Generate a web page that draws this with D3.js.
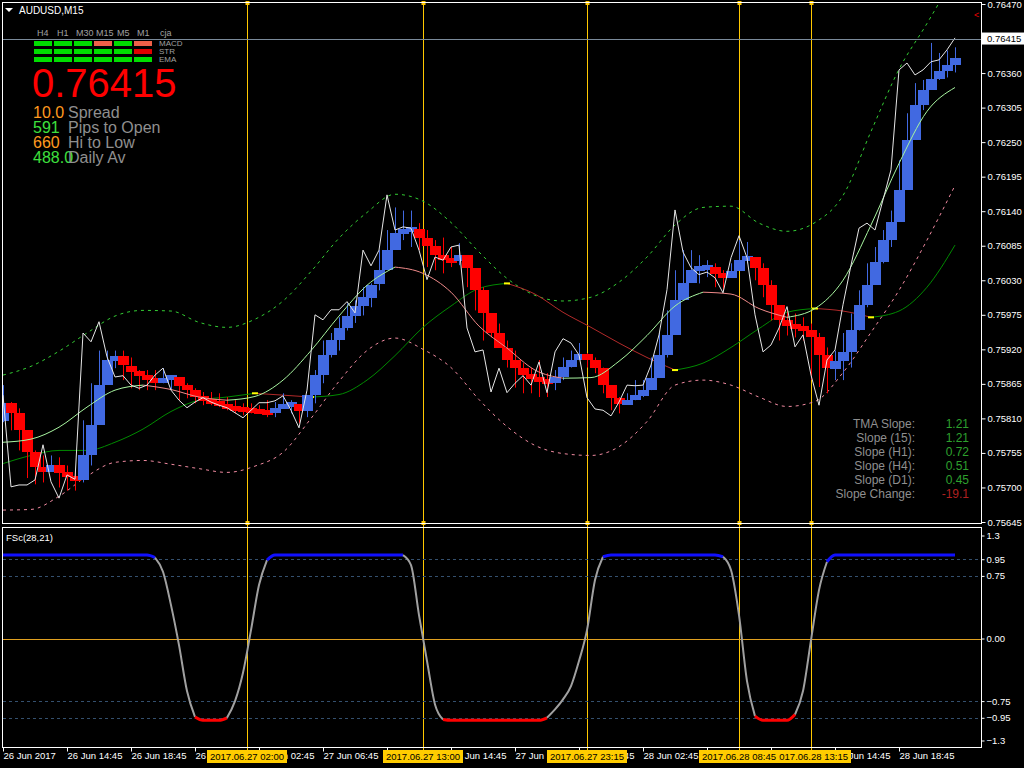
<!DOCTYPE html>
<html><head><meta charset="utf-8">
<script src="https://cdn.jsdelivr.net/npm/d3@7/dist/d3.min.js"></script>
<style>
body{margin:0;background:#000;}
svg{display:block;}
text{font-family:"Liberation Sans",Arial,sans-serif;}
</style></head><body>
<svg id="c" width="1024" height="768"></svg>
<script>
// ---------------- DATA ----------------
const symbolTitle = "AUDUSD,M15";
const startTime = new Date(2017, 5, 26, 10, 45); // first M15 bar
const barMinutes = 15;
const blockStep = 2;   // bars per heikin-ashi block sample
const smoothStep = 7;  // bars per smooth-line sample

const priceTicks = [0.76470,0.76415,0.76360,0.76305,0.76250,0.76195,0.76140,0.76085,0.76030,0.75975,0.75920,0.75865,0.75810,0.75755,0.75700,0.75645];
const currentPrice = 0.76415;

const timeTickBars = [0,16,32,48,64,80,96,112,128,144,160,176,192,208,224];
const timeTickLabels = ["26 Jun 2017","26 Jun 14:45","26 Jun 18:45","26 Jun 22:45","27 Jun 02:45","27 Jun 06:45","27 Jun 10:45","27 Jun 14:45","27 Jun 18:45","27 Jun 22:45","28 Jun 02:45","28 Jun 06:45","28 Jun 10:45","28 Jun 14:45","28 Jun 18:45"];

const markerBars = [61,105,146,184,202];
const markerLabels = ["2017.06.27 02:00","2017.06.27 13:00","2017.06.27 23:15","2017.06.28 08:45","2017.06.28 13:15"];

const haOpen0 = 0.75807;
const haClose = [0.75835,0.75819,0.75792,0.75757,0.75733,0.75725,0.75736,0.75723,0.75717,0.75712,
0.75752,0.75800,0.75863,0.75903,0.75909,0.75894,0.75884,0.75878,0.75873,0.75868,
0.75874,0.75876,0.75862,0.75855,0.75844,0.75838,0.75835,0.75831,0.75828,0.75825,
0.75823,0.75822,0.75820,0.75819,0.75827,0.75831,0.75833,0.75822,0.75847,0.75879,
0.75911,0.75935,0.75954,0.75973,0.75989,0.76003,0.76023,0.76046,0.76078,0.76105,
0.76110,0.76112,0.76097,0.76085,0.76070,0.76062,0.76061,0.76070,0.76050,0.76015,
0.75978,0.75946,0.75922,0.75903,0.75890,0.75879,0.75873,0.75870,0.75866,0.75876,
0.75892,0.75903,0.75913,0.75903,0.75890,0.75863,0.75843,0.75833,0.75839,0.75846,
0.75855,0.75874,0.75911,0.75943,0.75999,0.76026,0.76046,0.76050,0.76051,0.76040,
0.76034,0.76045,0.76062,0.76067,0.76050,0.76023,0.75991,0.75967,0.75957,0.75956,
0.75951,0.75940,0.75911,0.75890,0.75902,0.75916,0.75951,0.75991,0.76023,0.76059,
0.76094,0.76123,0.76174,0.76254,0.76309,0.76333,0.76351,0.76363,0.76373,0.76384];

const wickHigh = [0.75863,0.75836,0.75826,0.75783,0.75759,0.75751,0.75751,0.75748,0.75735,0.75727,
0.75807,0.75866,0.75918,0.75918,0.75918,0.75918,0.75907,0.75887,0.75887,0.75887,
0.75890,0.75879,0.75871,0.75866,0.75858,0.75852,0.75852,0.75850,0.75844,0.75839,
0.75834,0.75834,0.75831,0.75839,0.75836,0.75850,0.75839,0.75831,0.75839,0.75887,
0.75934,0.75946,0.75971,0.75993,0.75998,0.76019,0.76025,0.76078,0.76110,0.76146,
0.76141,0.76141,0.76121,0.76110,0.76094,0.76098,0.76083,0.76089,0.76057,0.76035,
0.76019,0.75977,0.75961,0.75934,0.75918,0.75898,0.75891,0.75903,0.75882,0.75887,
0.75907,0.75918,0.75930,0.75914,0.75907,0.75891,0.75860,0.75844,0.75850,0.75871,
0.75871,0.75907,0.75946,0.75982,0.76046,0.76078,0.76078,0.76070,0.76062,0.76057,
0.76046,0.76057,0.76094,0.76091,0.76065,0.76057,0.76030,0.75987,0.75982,0.75977,
0.75971,0.75961,0.75946,0.75923,0.75918,0.75946,0.75977,0.76014,0.76057,0.76083,
0.76110,0.76141,0.76221,0.76296,0.76344,0.76349,0.76408,0.76392,0.76396,0.76401];

const wickLow = [0.75804,0.75791,0.75759,0.75715,0.75705,0.75708,0.75727,0.75700,0.75695,0.75695,
0.75708,0.75735,0.75823,0.75887,0.75890,0.75871,0.75858,0.75855,0.75855,0.75855,
0.75866,0.75855,0.75839,0.75842,0.75834,0.75831,0.75831,0.75828,0.75823,0.75818,
0.75815,0.75818,0.75818,0.75812,0.75812,0.75826,0.75818,0.75802,0.75812,0.75834,
0.75866,0.75907,0.75918,0.75950,0.75962,0.75974,0.75987,0.76014,0.76057,0.76089,
0.76094,0.76083,0.76078,0.76051,0.76046,0.76041,0.76051,0.76054,0.76019,0.75982,
0.75934,0.75939,0.75923,0.75891,0.75859,0.75850,0.75850,0.75844,0.75844,0.75855,
0.75871,0.75891,0.75903,0.75891,0.75882,0.75850,0.75823,0.75818,0.75834,0.75839,
0.75844,0.75855,0.75882,0.75907,0.75971,0.76014,0.76030,0.76025,0.76035,0.76019,
0.76014,0.76035,0.76051,0.76057,0.76030,0.76003,0.75966,0.75934,0.75942,0.75939,
0.75934,0.75871,0.75860,0.75850,0.75871,0.75871,0.75891,0.75950,0.75987,0.76025,
0.76057,0.76083,0.76157,0.76221,0.76296,0.76301,0.76337,0.76349,0.76353,0.76361];

const closeLine = [0.75847,0.75701,0.75704,0.75704,0.75712,0.75768,0.75709,0.75683,0.75720,0.75713,
0.75946,0.75932,0.75964,0.75908,0.75876,0.75878,0.75863,0.75858,0.75863,0.75879,
0.75890,0.75855,0.75839,0.75827,0.75836,0.75843,0.75836,0.75831,0.75827,0.75819,
0.75811,0.75823,0.75835,0.75835,0.75838,0.75846,0.75823,0.75795,0.75855,0.75975,
0.75967,0.75983,0.75983,0.75996,0.75978,0.76078,0.76053,0.76078,0.76166,0.76110,
0.76115,0.76113,0.76078,0.76031,0.76067,0.76062,0.76083,0.76086,0.75954,0.75916,
0.75919,0.75852,0.75890,0.75851,0.75866,0.75878,0.75863,0.75900,0.75851,0.75916,
0.75937,0.75930,0.75911,0.75843,0.75825,0.75823,0.75814,0.75836,0.75863,0.75862,
0.75863,0.75895,0.75943,0.76015,0.76142,0.76075,0.76050,0.76039,0.76043,0.76034,
0.76010,0.76066,0.76101,0.76066,0.75975,0.75916,0.75927,0.75954,0.75988,0.75924,
0.75943,0.75879,0.75831,0.75903,0.75919,0.75991,0.76054,0.76113,0.76121,0.76110,
0.76158,0.76206,0.76365,0.76376,0.76357,0.76365,0.76378,0.76381,0.76397,0.76416];

const upperBand = [0.75879,0.75893,0.75917,0.75946,0.75973,0.75982,0.75981,0.75963,0.75955,0.75968,
0.75997,0.76044,0.76097,0.76138,0.76167,0.76156,0.76122,0.76075,0.76033,0.76006,
0.75997,0.76003,0.76027,0.76067,0.76118,0.76146,0.76148,0.76121,0.76108,0.76122,
0.76165,0.76267,0.76366,0.76439,0.76516];
const lowerBand = [0.75664,0.75665,0.75686,0.75718,0.75740,0.75743,0.75737,0.75730,0.75724,0.75734,
0.75756,0.75810,0.75869,0.75918,0.75938,0.75920,0.75891,0.75840,0.75797,0.75767,
0.75754,0.75751,0.75765,0.75805,0.75863,0.75871,0.75863,0.75844,0.75829,0.75837,
0.75883,0.75947,0.76014,0.76094,0.76181];
const tmaLine = [0.75772,0.75777,0.75796,0.75828,0.75855,0.75863,0.75856,0.75844,0.75839,0.75845,
0.75871,0.75918,0.75973,0.76022,0.76051,0.76041,0.76011,0.75957,0.75922,0.75887,
0.75874,0.75875,0.75901,0.75942,0.75989,0.76011,0.76008,0.75985,0.75971,0.75985,
0.76030,0.76118,0.76216,0.76299,0.76337];
const slowMA = [0.75738,0.75751,0.75759,0.75759,0.75772,0.75793,0.75821,0.75839,0.75844,0.75850,
0.75847,0.75844,0.75848,0.75871,0.75910,0.75955,0.75989,0.76017,0.76025,0.76008,
0.75979,0.75955,0.75930,0.75907,0.75887,0.75898,0.75923,0.75953,0.75979,0.75985,
0.75981,0.75971,0.75981,0.76019,0.76086];

const fscName = "FSc(28,21)";
const fscValues = [1.00,1.00,1.00,1.00,1.00,1.00,1.00,1.00,1.00,1.00,
1.00,1.00,1.00,1.00,1.00,1.00,1.00,1.00,1.00,0.97,
0.80,0.40,-0.08,-0.63,-0.94,-0.98,-0.98,-0.98,-0.95,-0.75,
-0.41,0.10,0.64,0.94,1.00,1.00,1.00,1.00,1.00,1.00,
1.00,1.00,1.00,1.00,1.00,1.00,1.00,1.00,1.00,1.00,
1.00,0.88,0.28,-0.27,-0.79,-0.97,-0.98,-0.98,-0.98,-0.98,
-0.98,-0.98,-0.98,-0.98,-0.98,-0.98,-0.98,-0.98,-0.95,-0.85,
-0.73,-0.57,-0.27,0.10,0.70,0.98,1.00,1.00,1.00,1.00,
1.00,1.00,1.00,1.00,1.00,1.00,1.00,1.00,1.00,1.00,
0.98,0.82,0.28,-0.51,-0.93,-0.98,-0.98,-0.98,-0.98,-0.91,
-0.63,-0.02,0.58,0.92,1.00,1.00,1.00,1.00,1.00,1.00,
1.00,1.00,1.00,1.00,1.00,1.00,1.00,1.00,1.00,1.00];
const fscLevels = [0.95,0.75,-0.75,-0.95];
const fscTicks = [1.3,0.95,0.75,0.00,-0.75,-0.95,-1.3];

const tfLabels = ["H4","H1","M30","M15","M5","M1","cja"];
const gridRows = ["MACD","STR","EMA"];
const gridStatus = [[1,1,1,-1,1,-1],[1,1,1,1,1,-2],[1,1,1,1,1,1]];
const bigPrice = "0.76415";
const infoValues = ["10.0","591","660","488.0"];
const infoLabels = ["Spread","Pips to Open","Hi to Low","Daily Av"];
const infoColors = ["#ff9a1f","#3ee03e","#ff9a1f","#3ee03e"];
const slopeLabels = ["TMA Slope:","Slope (15):","Slope (H1):","Slope (H4):","Slope (D1):","Slope Change:"];
const slopeValues = ["1.21","1.21","0.72","0.51","0.45","-19.1"];

// ---------------- DRAW ----------------
const svg = d3.select("#c");
svg.append("rect").attr("width",1024).attr("height",768).attr("fill","#000");
const tb = i => new Date(+startTime + i*barMinutes*60000);
const x = d3.scaleTime().domain([tb(0), tb(244.5)]).range([3,981]);
const y = d3.scaleLinear().domain([0.75645,0.76470]).range([522,4]);
const yo = d3.scaleLinear().domain([-1.3,1.3]).range([747,530]);
const BLUE="#4169e1", RED="#ff0000", MK="#ffc800";

const defs = svg.append("defs");
defs.append("clipPath").attr("id","mainClip").append("rect").attr("x",2.5).attr("y",3).attr("width",979).attr("height",520);
defs.append("clipPath").attr("id","subClip").append("rect").attr("x",2.5).attr("y",528).attr("width",979).attr("height",219);

// vertical markers
markerBars.forEach(b=>{
  const xx = Math.round(x(tb(b)))+0.5;
  svg.append("line").attr("x1",xx).attr("x2",xx).attr("y1",3).attr("y2",752).attr("stroke",MK).attr("stroke-width",1);
  [3,523].forEach(yy=>svg.append("rect").attr("x",xx-2).attr("y",yy-2).attr("width",4).attr("height",4).attr("fill",MK));
});

const main = svg.append("g").attr("clip-path","url(#mainClip)");
const sx = j => x(tb(j*smoothStep));
const bx = k => x(tb(k*blockStep));

function dashed(vals,color,dash){
  main.append("path").attr("d",d3.line().x((d,j)=>sx(j)).y(d=>y(d)).curve(d3.curveMonotoneX)(vals))
    .attr("fill","none").attr("stroke",color).attr("stroke-width",1).attr("stroke-dasharray",dash);
}
dashed(upperBand,"#33cc33","3,4");
dashed(lowerBand,"#f08aa0","3,4");

function colorRuns(vals,fn){
  const out=[];
  for(let i=0;i<vals.length-1;i++){
    const c=fn(vals[i],vals[i+1],i);
    if(out.length && out[out.length-1].c===c) out[out.length-1].idx.push(i+1);
    else out.push({c,idx:[i,i+1]});
  }
  return out;
}
function drawRuns(g,vals,runs,xf,yf,widthFn){
  runs.forEach(r=>{
    g.append("path").attr("d",d3.line().x(i=>xf(i)).y(i=>yf(vals[i])).curve(d3.curveMonotoneX)(r.idx))
      .attr("fill","none").attr("stroke",r.c).attr("stroke-width",widthFn?widthFn(r.c):1);
  });
}
// slow MA
const slowRuns = colorRuns(slowMA,(a,b)=> b>=a ? "#008a00" : "#b22a2a");
drawRuns(main,slowMA,slowRuns,sx,y);
slowRuns.slice(1).forEach(r=>{
  const i=r.idx[0];
  main.append("rect").attr("x",sx(i)-3).attr("y",y(slowMA[i])-1).attr("width",6).attr("height",2).attr("fill","#ffff00");
});

// wicks & blocks
const blocks = haClose.map((c,k)=>({k,o:k===0?haOpen0:haClose[k-1],c,h:wickHigh[k],l:wickLow[k]}));
main.selectAll("line.wick").data(blocks).enter().append("line")
  .attr("x1",d=>Math.round(bx(d.k))+0.5).attr("x2",d=>Math.round(bx(d.k))+0.5)
  .attr("y1",d=>y(d.h)).attr("y2",d=>y(d.l))
  .attr("stroke",d=>d.c>=d.o?BLUE:RED).attr("stroke-width",1);
main.selectAll("rect.blk").data(blocks).enter().append("rect")
  .attr("x",d=>Math.round(bx(d.k))-5).attr("width",11)
  .attr("y",d=>{const t=y(Math.max(d.o,d.c)),b=y(Math.min(d.o,d.c));return Math.round((b-t<5)?(t+b)/2-2.5:t);})
  .attr("height",d=>Math.round(Math.max(5,y(Math.min(d.o,d.c))-y(Math.max(d.o,d.c)))))
  .attr("fill",d=>d.c>=d.o?BLUE:RED);

// TMA
const tmaRuns = colorRuns(tmaLine,(a,b)=> b>=a ? "#a8f5a0" : "#f08a8a");
drawRuns(main,tmaLine,tmaRuns,sx,y);

// close line
main.append("path").attr("d",d3.line().x((d,k)=>bx(k)).y(d=>y(d))(closeLine))
  .attr("fill","none").attr("stroke","#e6e6e6").attr("stroke-width",1);

// bid line
svg.append("line").attr("x1",2).attr("x2",981).attr("y1",Math.round(y(currentPrice))+0.5).attr("y2",Math.round(y(currentPrice))+0.5)
  .attr("stroke","#7a8a9a").attr("stroke-width",1);

// frames
svg.append("rect").attr("x",2.5).attr("y",2.5).attr("width",979).attr("height",521).attr("fill","none").attr("stroke","#fff");
svg.append("rect").attr("x",2.5).attr("y",527.5).attr("width",979).attr("height",220).attr("fill","none").attr("stroke","#fff");

// price axis
const pa = svg.append("g").attr("transform","translate(981.5,0)")
  .call(d3.axisRight(y).tickValues(priceTicks).tickSize(4).tickPadding(2).tickFormat(d3.format(".5f")));
pa.select(".domain").remove();
pa.selectAll("line").attr("stroke","#fff");
pa.selectAll("text").attr("fill","#fff").style("font-size","9.5px").style("font-family","Liberation Sans");
// current price box
const cpY = y(currentPrice);
svg.append("rect").attr("x",982).attr("y",cpY-6).attr("width",42).attr("height",12).attr("fill","#fff");
svg.append("text").attr("x",987).attr("y",cpY+3.5).attr("fill","#000").style("font-size","9.5px").text(d3.format(".5f")(currentPrice));
svg.append("text").attr("x",974).attr("y",18).attr("fill","#e00").style("font-size","9px").text("<");

// sub panel
const sub = svg.append("g").attr("clip-path","url(#subClip)");
fscLevels.forEach(v=>sub.append("line").attr("x1",3).attr("x2",981).attr("y1",Math.round(yo(v))+0.5).attr("y2",Math.round(yo(v))+0.5)
  .attr("stroke","#34506e").attr("stroke-dasharray","3,3"));
sub.append("line").attr("x1",3).attr("x2",981).attr("y1",Math.round(yo(0))+0.5).attr("y2",Math.round(yo(0))+0.5).attr("stroke","#e0a020");
const fscRuns = colorRuns(fscValues,(a,b)=> (a>=0.9&&b>=0.9)?"#1010ff":((a<=-0.9&&b<=-0.9)?"#ff0000":"#a0a0a0"));
drawRuns(sub,fscValues,fscRuns,bx,yo,c=>c==="#a0a0a0"?2:3);
svg.append("text").attr("x",6).attr("y",541).attr("fill","#fff").style("font-size","9.5px").text(fscName);

const oa = svg.append("g").attr("transform","translate(981.5,0)")
  .call(d3.axisRight(yo).tickValues(fscTicks).tickSize(3).tickPadding(2).tickFormat(d=>Math.abs(d)===1.3?d3.format(".1f")(d):d3.format(".2f")(d)));
oa.select(".domain").remove();
oa.selectAll("line").attr("stroke","#fff");
oa.selectAll("text").attr("fill","#fff").style("font-size","9.5px");
oa.selectAll(".tick").filter(d=>d===1.3).attr("transform",`translate(0,${yo(1.3)+6})`);
oa.selectAll(".tick").filter(d=>d===-1.3).attr("transform",`translate(0,${yo(-1.3)-6})`);

// time axis
const ta = svg.append("g").attr("transform","translate(0,747.5)")
  .call(d3.axisBottom(x).tickValues(timeTickBars.map(tb)).tickSize(4).tickPadding(1).tickFormat((d,i)=>timeTickLabels[i]));
ta.select(".domain").remove();
ta.selectAll("line").attr("stroke","#fff");
ta.selectAll("text").attr("fill","#fff").attr("text-anchor","start").style("font-size","9.5px");

// marker labels (reverse so earlier on top)
markerBars.map((b,i)=>({b,l:markerLabels[i]})).reverse().forEach(m=>{
  const xx = x(tb(m.b));
  svg.append("rect").attr("x",xx-40).attr("y",750).attr("width",80).attr("height",13).attr("fill","#ffcc00");
  svg.append("text").attr("x",xx).attr("y",760).attr("text-anchor","middle").attr("fill","#000").style("font-size","9.5px").text(m.l);
});

// top-left info
svg.append("path").attr("d","M5,8 L13,8 L9,12 Z").attr("fill","#fff");
svg.append("text").attr("x",19).attr("y",14).attr("fill","#fff").style("font-size","10px").text(symbolTitle);
const tfX = [37,57,76,96,117,137,160];
tfLabels.forEach((t,i)=>svg.append("text").attr("x",tfX[i]).attr("y",36).attr("fill","#a0a0a0").style("font-size","9px").text(t));
const colX = [34,54,74,94,114,134], rowY=[41,49,57];
gridStatus.forEach((row,r)=>{
  row.forEach((s,c)=>svg.append("rect").attr("x",colX[c]).attr("y",rowY[r]).attr("width",18).attr("height",5)
    .attr("fill", s===1?"#00dd00":(s===-1?"#f06048":"#e00000")));
  svg.append("text").attr("x",159).attr("y",rowY[r]+5).attr("fill","#a0a0a0").style("font-size","8px").text(gridRows[r]);
});
svg.append("text").attr("x",32).attr("y",97).attr("fill","#ff0000").style("font-size","40px").text(bigPrice);
infoValues.forEach((v,i)=>{
  const yy = 118 + i*15;
  svg.append("text").attr("x",33).attr("y",yy).attr("fill",infoColors[i]).style("font-size","16px").text(v);
  svg.append("text").attr("x",68).attr("y",yy).attr("fill","#8f8f8f").style("font-size","16px").text(infoLabels[i]);
});
slopeLabels.forEach((l,i)=>{
  const yy = 428 + i*14;
  svg.append("text").attr("x",915).attr("y",yy).attr("text-anchor","end").attr("fill","#8f8f8f").style("font-size","12px").text(l);
  svg.append("text").attr("x",969).attr("y",yy).attr("text-anchor","end").attr("fill",i===5?"#b02020":"#2ea02e").style("font-size","12px").text(slopeValues[i]);
});
</script></body></html>
